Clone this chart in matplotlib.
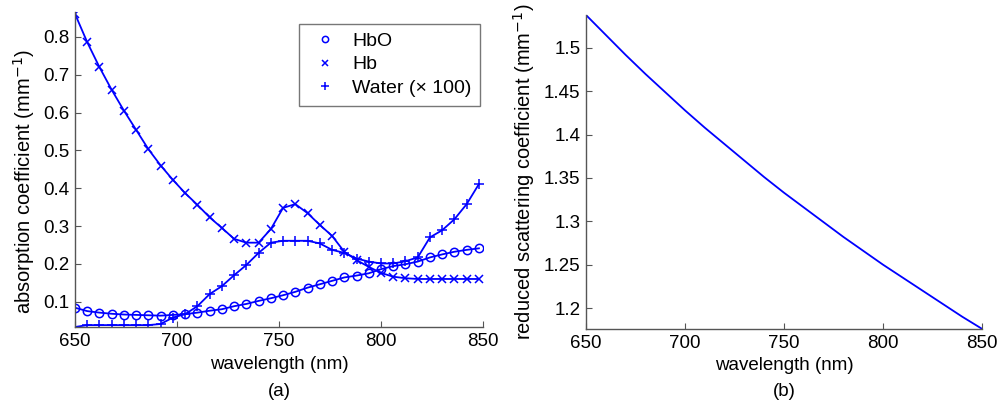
import numpy as np
import matplotlib.pyplot as plt
from matplotlib.ticker import FormatStrFormatter, FuncFormatter

plt.rcParams['font.family'] = ['Liberation Sans', 'DejaVu Sans']

# absorption spectra, sampled every 6 nm
wavelength = [650, 656, 662, 668, 674, 680, 686, 692, 698, 704, 710, 716,
              722, 728, 734, 740, 746, 752, 758, 764, 770, 776, 782, 788,
              794, 800, 806, 812, 818, 824, 830, 836, 842, 848]
hbo = [0.084, 0.075, 0.071, 0.068, 0.066, 0.065, 0.064, 0.063, 0.065, 0.067,
       0.071, 0.076, 0.080, 0.088, 0.094, 0.102, 0.109, 0.117, 0.126, 0.137,
       0.146, 0.155, 0.164, 0.169, 0.175, 0.186, 0.194, 0.199, 0.206, 0.217,
       0.225, 0.232, 0.237, 0.241]
hb = [0.861, 0.786, 0.720, 0.660, 0.605, 0.554, 0.503, 0.460, 0.422, 0.387,
      0.356, 0.323, 0.295, 0.266, 0.256, 0.256, 0.292, 0.348, 0.358, 0.334,
      0.303, 0.274, 0.232, 0.210, 0.192, 0.176, 0.166, 0.162, 0.160, 0.160,
      0.160, 0.160, 0.160, 0.160]
water_x100 = [0.033, 0.038, 0.038, 0.038, 0.038, 0.038, 0.038, 0.041, 0.058,
              0.067, 0.088, 0.120, 0.141, 0.170, 0.197, 0.229, 0.256, 0.261,
              0.261, 0.261, 0.254, 0.237, 0.229, 0.214, 0.206, 0.201, 0.201,
              0.207, 0.217, 0.270, 0.289, 0.318, 0.358, 0.411]

# reduced scattering
wl_scat = [650, 660, 670, 680, 690, 700, 710, 720, 730, 740, 750,
           760, 770, 780, 790, 800, 810, 820, 830, 840, 850]
mus = [1.538, 1.515, 1.492, 1.470, 1.449, 1.428, 1.408, 1.389, 1.370, 1.351,
       1.333, 1.316, 1.299, 1.282, 1.266, 1.250, 1.235, 1.220, 1.205, 1.190,
       1.176]

W, H = 1008, 412
fig = plt.figure(figsize=(W / 100, H / 100), dpi=100)
ax1 = fig.add_axes([75 / W, 1 - 327 / H, 408 / W, 315 / H])
ax2 = fig.add_axes([586 / W, 1 - 329 / H, 396 / W, 314 / H])

blue = (0, 0, 1)
ax1.plot(wavelength, hbo, '-o', color=blue, lw=1.3, ms=6, mfc='none',
         mew=1.1, label='HbO')
ax1.plot(wavelength, hb, '-x', color=blue, lw=1.3, ms=6, mew=1.1, label='Hb')
ax1.plot(wavelength, water_x100, '-+', color=blue, lw=1.3, ms=7, mew=1.1,
         label='Water (× 100)')
ax1.set_xlim(650, 850)
ax1.set_ylim(0.033, 0.866)
ax1.set_yticks(np.arange(0.1, 0.85, 0.1))
ax1.yaxis.set_major_formatter(FormatStrFormatter('%.1f'))
ax1.set_xlabel('wavelength (nm)', fontsize=13.5)
ax1.set_ylabel('absorption coefficient (mm$^{-1}$)', fontsize=14.5)
ax1.xaxis.set_label_coords(0.5, -0.092)
ax1.yaxis.set_label_coords(-0.093, 0.463)

leg = ax1.legend(loc='upper right', bbox_to_anchor=(0.993, 0.963),
                 fontsize=14, frameon=True, fancybox=False,
                 handlelength=1.8, handletextpad=0.5, borderpad=0.45,
                 labelspacing=0.3, markerscale=0.75, borderaxespad=0)
leg.get_frame().set_edgecolor('#555555')
leg.get_frame().set_linewidth(1.0)
for h in leg.legend_handles:
    h.set_linestyle('none')

ax2.plot(wl_scat, mus, '-', color=blue, lw=1.3)
ax2.set_xlim(650, 850)
ax2.set_ylim(1.1758, 1.538)
ax2.set_yticks([1.2, 1.25, 1.3, 1.35, 1.4, 1.45, 1.5])
ax2.yaxis.set_major_formatter(FuncFormatter(lambda v, p: f'{v:g}'))
ax2.set_xlabel('wavelength (nm)', fontsize=13.5)
ax2.set_ylabel('reduced scattering coefficient (mm$^{-1}$)', fontsize=14.5)
ax2.xaxis.set_label_coords(0.5, -0.09)
ax2.yaxis.set_label_coords(-0.124, 0.50)

for ax in (ax1, ax2):
    ax.set_xticks([650, 700, 750, 800, 850])
    for s in ('top', 'right'):
        ax.spines[s].set_visible(False)
    for s in ('left', 'bottom'):
        ax.spines[s].set_color('#555555')
        ax.spines[s].set_linewidth(1.0)
    ax.tick_params(direction='in', length=4, width=0.8, color='#555555',
                   labelsize=13.5, pad=4)

fig.text(279 / W, 1 - 391 / H, '(a)', ha='center', va='center', fontsize=13.5)
fig.text(784 / W, 1 - 391 / H, '(b)', ha='center', va='center', fontsize=13.5)

fig.savefig('out.png', dpi=100)
